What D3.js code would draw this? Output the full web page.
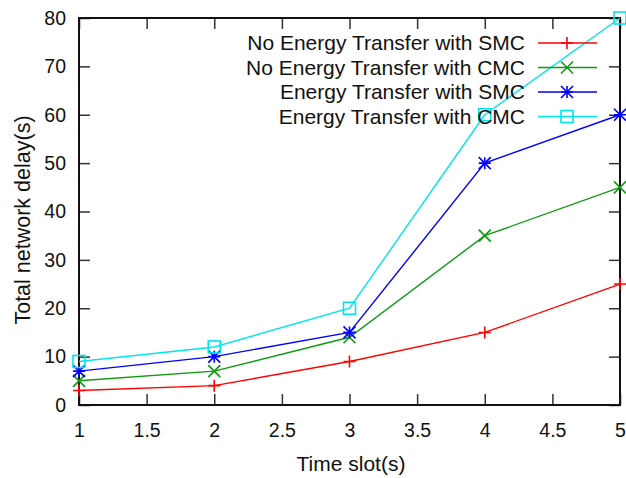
<!DOCTYPE html>
<html>
<head>
<meta charset="utf-8">
<script src="https://cdn.jsdelivr.net/npm/d3@7"></script>
<style>
  body { margin: 0; background: #fff; }
  text { font-family: "Liberation Sans", Arial, sans-serif; fill: #111; }
</style>
</head>
<body>
<div id="grafica"></div>
<script>
// --- data
const timeSlots = [1, 2, 3, 4, 5]
const noTransferSMC = [3, 4, 9, 15, 25]
const noTransferCMC = [5, 7, 14, 35, 45]
const transferSMC = [7, 10, 15, 50, 60]
const transferCMC = [9, 12, 20, 60, 80]
const seriesNames = ['No Energy Transfer with SMC', 'No Energy Transfer with CMC',
                     'Energy Transfer with SMC', 'Energy Transfer with CMC']
const xTicks = [1, 1.5, 2, 2.5, 3, 3.5, 4, 4.5, 5]
const yTicks = [0, 10, 20, 30, 40, 50, 60, 70, 80]

const series = [
  { name: seriesNames[0], values: noTransferSMC, color: '#ff0000', mark: 'plus' },
  { name: seriesNames[1], values: noTransferCMC, color: '#109a10', mark: 'cross' },
  { name: seriesNames[2], values: transferSMC, color: '#0000ff', mark: 'star' },
  { name: seriesNames[3], values: transferCMC, color: '#00e5ee', mark: 'square' }
]

const width = 626, height = 478
const margin = { left: 79, right: 6, top: 18, bottom: 73 }

const x = d3.scaleLinear().domain([1, 5]).range([margin.left, width - margin.right])
const y = d3.scaleLinear().domain([0, 80]).range([height - margin.bottom, margin.top])

const svg = d3.select('#grafica').append('svg')
              .attr('width', width)
              .attr('height', height)

const tickLen = 11
// axes with inward ticks, mirrored on top/right
svg.append('g').attr('transform', `translate(0,${y(0)})`)
   .call(d3.axisBottom(x).tickValues(xTicks).tickSize(-tickLen).tickPadding(18)
          .tickFormat(d3.format('')))
   .call(g => g.select('.domain').remove())
svg.append('g').attr('transform', `translate(0,${y(80)})`)
   .call(d3.axisTop(x).tickValues(xTicks).tickSize(-tickLen).tickFormat(''))
   .call(g => g.select('.domain').remove())
svg.append('g').attr('transform', `translate(${x(1)},0)`)
   .call(d3.axisLeft(y).tickValues(yTicks).tickSize(-tickLen).tickPadding(13))
   .call(g => g.select('.domain').remove())
svg.append('g').attr('transform', `translate(${x(5)},0)`)
   .call(d3.axisRight(y).tickValues(yTicks).tickSize(-tickLen).tickFormat(''))
   .call(g => g.select('.domain').remove())

svg.selectAll('.tick line').attr('stroke', '#333').attr('stroke-width', 1.5)
svg.selectAll('.tick text').attr('font-size', 19.5).attr('fill', '#111')
   .attr('font-family', '"Liberation Sans", Arial, sans-serif')

svg.append('rect')
   .attr('x', x(1)).attr('y', y(80))
   .attr('width', x(5) - x(1)).attr('height', y(0) - y(80))
   .attr('fill', 'none').attr('stroke', '#111').attr('stroke-width', 2)

// axis titles
svg.append('text')
   .attr('x', 351).attr('y', 471)
   .attr('text-anchor', 'middle').attr('font-size', 21)
   .text('Time slot(s)')
svg.append('text')
   .attr('transform', `translate(30,220) rotate(-90)`)
   .attr('text-anchor', 'middle').attr('font-size', 21.5)
   .text('Total network delay(s)')

const symbol = (sel, mark, color) => {
  const s = 6
  if (mark === 'plus' || mark === 'star') {
    sel.append('path').attr('d', `M${-s},0H${s}M0,${-s}V${s}`)
  }
  if (mark === 'cross' || mark === 'star') {
    sel.append('path').attr('d', `M${-s},${-s}L${s},${s}M${-s},${s}L${s},${-s}`)
  }
  if (mark === 'square') {
    sel.append('rect').attr('x', -s).attr('y', -s).attr('width', 2 * s).attr('height', 2 * s)
  }
  sel.selectAll('path, rect').attr('stroke', color).attr('stroke-width', 1.6).attr('fill', 'none')
}

const line = d3.line().x((d, i) => x(timeSlots[i])).y(d => y(d))

series.forEach(s => {
  svg.append('path').datum(s.values)
     .attr('d', line)
     .attr('fill', 'none')
     .attr('stroke', s.color)
     .attr('stroke-width', 1.4)
  svg.selectAll(null).data(s.values).enter()
     .append('g')
     .attr('transform', (d, i) => `translate(${x(timeSlots[i])},${y(d)})`)
     .each(function () { symbol(d3.select(this), s.mark, s.color) })
})

// legend
const legend = svg.append('g')
series.forEach((s, i) => {
  const ly = 43 + i * 24.5
  legend.append('text')
        .attr('x', 525).attr('y', ly).attr('dy', '0.35em')
        .attr('text-anchor', 'end').attr('font-size', 21)
        .text(s.name)
  legend.append('line')
        .attr('x1', 538).attr('x2', 597).attr('y1', ly).attr('y2', ly)
        .attr('stroke', s.color).attr('stroke-width', 1.5)
  legend.append('g').attr('transform', `translate(567,${ly})`)
        .call(g => symbol(g, s.mark, s.color))
})
</script>
</body>
</html>
